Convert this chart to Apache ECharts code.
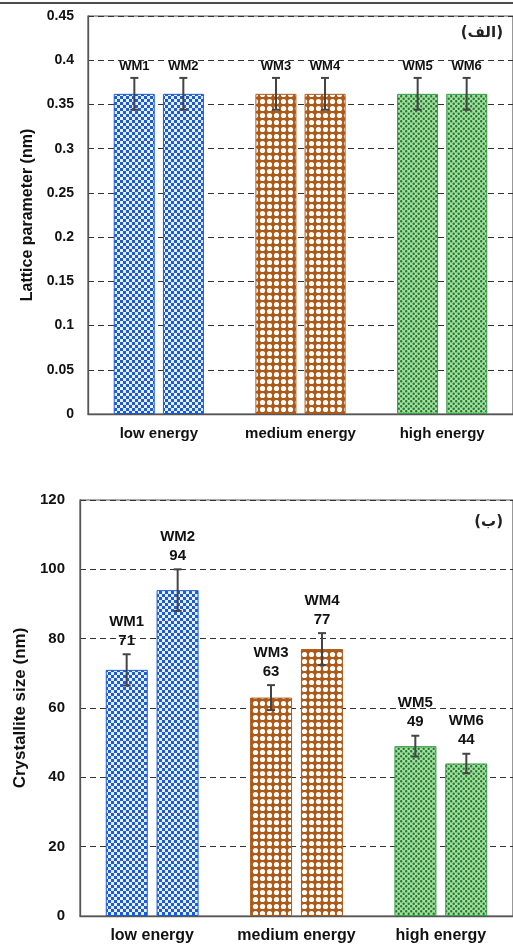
<!DOCTYPE html>
<html>
<head>
<meta charset="utf-8">
<script src="https://cdn.jsdelivr.net/npm/echarts@6/dist/echarts.min.js"></script>
<style>
    html, body { margin: 0; padding: 0; background: #fff; }
    #chart { width: 513px; height: 946px; }
</style>
</head>
<body>
<div id="chart"></div>
<script>
    // data
    const categories = ['low energy', 'medium energy', 'high energy'];
    const firstNames = ['WM1', 'WM3', 'WM5'];
    const secondNames = ['WM2', 'WM4', 'WM6'];

    const latticeFirst = [0.362, 0.362, 0.362];
    const latticeSecond = [0.362, 0.362, 0.362];
    const latticeErrFirst = [0.018, 0.018, 0.018];
    const latticeErrSecond = [0.018, 0.018, 0.018];

    const sizeFirst = [71, 63, 49];
    const sizeSecond = [94, 77, 44];
    const sizeErrFirst = [4.5, 3.6, 3];
    const sizeErrSecond = [6, 4.6, 2.8];

    const FONT = '"Liberation Sans", Arial, sans-serif';

    function makeCanvas(w, h, draw) {
        const c = document.createElement('canvas');
        c.width = w;
        c.height = h;
        draw(c.getContext('2d'));
        return c;
    }

    const blueTile = makeCanvas(6, 6, ctx => {
        ctx.fillStyle = '#e8f0fd';
        ctx.fillRect(0, 0, 6, 6);
        ctx.fillStyle = '#1a5cd8';
        ctx.fillRect(0, 0, 3, 3);
        ctx.fillRect(3, 3, 3, 3);
    });
    const brownTile = makeCanvas(7, 7, ctx => {
        ctx.fillStyle = '#ad5a18';
        ctx.fillRect(0, 0, 7, 7);
        ctx.fillStyle = '#ffffff';
        ctx.beginPath();
        ctx.arc(3.5, 3.5, 2.6, 0, Math.PI * 2);
        ctx.fill();
    });
    const greenTile = makeCanvas(5, 5, ctx => {
        ctx.fillStyle = '#a6dea4';
        ctx.fillRect(0, 0, 5, 5);
        ctx.fillStyle = '#1f7a2c';
        ctx.beginPath();
        ctx.arc(1.2, 1.2, 1.2, 0, Math.PI * 2);
        ctx.arc(3.7, 3.7, 1.2, 0, Math.PI * 2);
        ctx.fill();
    });

    const fills = [
        { image: blueTile, repeat: 'repeat' },
        { image: brownTile, repeat: 'repeat' },
        { image: greenTile, repeat: 'repeat' }
    ];
    const borders = ['#1a5cd8', '#ad5a18', '#3a9e47'];

    function barData(values) {
        return values.map((v, i) => ({
            value: v,
            itemStyle: { color: fills[i], borderColor: borders[i], borderWidth: 1 }
        }));
    }

    function errData(values, errs, side) {
        return values.map((v, i) => [i, v, errs[i], side]);
    }

    // error bar + label, drawn through the axis scale
    function errorRenderer(shift, labels, fontSize, lineHeight) {
        return function (params, api) {
            const cat = api.value(0);
            const v = api.value(1);
            const e = api.value(2);
            const side = api.value(3);
            const top = api.coord([cat, v + e]);
            const bot = api.coord([cat, v - e]);
            const x = top[0] + side * shift;
            const cap = 4;
            return {
                type: 'group',
                children: [
                    { type: 'line', shape: { x1: x, y1: top[1], x2: x, y2: bot[1] }, style: { stroke: '#444', lineWidth: 2 } },
                    { type: 'line', shape: { x1: x - cap, y1: top[1], x2: x + cap, y2: top[1] }, style: { stroke: '#444', lineWidth: 2 } },
                    { type: 'line', shape: { x1: x - cap, y1: bot[1], x2: x + cap, y2: bot[1] }, style: { stroke: '#444', lineWidth: 2 } },
                    {
                        type: 'text',
                        style: {
                            text: labels[params.dataIndex],
                            x: x,
                            y: top[1] - 4,
                            align: 'center',
                            verticalAlign: 'bottom',
                            fontSize: fontSize,
                            fontWeight: 'bold',
                            fontFamily: FONT,
                            lineHeight: lineHeight,
                            fill: '#111'
                        }
                    }
                ]
            };
        };
    }

    const splitDash = { show: true, lineStyle: { color: '#333', type: [6, 4], width: 1 } };

    const chart = echarts.init(document.getElementById('chart'));
    chart.setOption({
        animation: false,
        backgroundColor: '#fff',
        grid: [
            { left: 88, top: 16, width: 426, height: 398, show: true, borderColor: '#555', borderWidth: 1.2 },
            { left: 80, top: 500, width: 442, height: 416, show: true, borderColor: '#555', borderWidth: 1.2 }
        ],
        xAxis: [
            {
                type: 'category', gridIndex: 0, data: categories,
                axisLine: { lineStyle: { color: '#555', width: 1.3 } },
                axisTick: { show: false },
                axisLabel: { interval: 0, color: '#111', fontWeight: 'bold', fontSize: 15, fontFamily: FONT, margin: 12 }
            },
            {
                type: 'category', gridIndex: 1, data: categories,
                axisLine: { lineStyle: { color: '#555', width: 1.3 } },
                axisTick: { show: false },
                axisLabel: { interval: 0, color: '#111', fontWeight: 'bold', fontSize: 16, fontFamily: FONT, margin: 12 }
            }
        ],
        yAxis: [
            {
                type: 'value', gridIndex: 0, min: 0, max: 0.45, interval: 0.05,
                name: 'Lattice parameter (nm)', nameLocation: 'middle', nameGap: 50,
                nameTextStyle: { color: '#111', fontWeight: 'bold', fontSize: 16, fontFamily: FONT },
                axisLine: { show: true, lineStyle: { color: '#555', width: 1.3 } },
                axisTick: { show: false },
                axisLabel: { color: '#111', fontWeight: 'bold', fontSize: 14, fontFamily: FONT, margin: 14 },
                splitLine: splitDash
            },
            {
                type: 'value', gridIndex: 1, min: 0, max: 120, interval: 20,
                name: 'Crystallite size (nm)', nameLocation: 'middle', nameGap: 50,
                nameTextStyle: { color: '#111', fontWeight: 'bold', fontSize: 17, fontFamily: FONT },
                axisLine: { show: true, lineStyle: { color: '#555', width: 1.3 } },
                axisTick: { show: false },
                axisLabel: { color: '#111', fontWeight: 'bold', fontSize: 15, fontFamily: FONT, margin: 15 },
                splitLine: splitDash
            }
        ],
        graphic: [
            { type: 'line', shape: { x1: 0, y1: 3, x2: 513, y2: 3 }, style: { stroke: '#111', lineWidth: 1.5 } },
            { type: 'text', right: 10, top: 26, style: { text: '(الف)', fontSize: 15, fontWeight: 'bold', fontFamily: 'DejaVu Sans', fill: '#222' } },
            { type: 'text', right: 10, top: 515, style: { text: '(ب)', fontSize: 15, fontWeight: 'bold', fontFamily: 'DejaVu Sans', fill: '#222' } }
        ],
        series: [
            { type: 'bar', xAxisIndex: 0, yAxisIndex: 0, barWidth: 41, barGap: '20%', data: barData(latticeFirst) },
            { type: 'bar', xAxisIndex: 0, yAxisIndex: 0, barWidth: 41, barGap: '20%', data: barData(latticeSecond) },
            {
                type: 'custom', xAxisIndex: 0, yAxisIndex: 0, z: 5,
                renderItem: errorRenderer(24.5, firstNames, 13, 15),
                data: errData(latticeFirst, latticeErrFirst, -1)
            },
            {
                type: 'custom', xAxisIndex: 0, yAxisIndex: 0, z: 5,
                renderItem: errorRenderer(24.5, secondNames, 13, 15),
                data: errData(latticeSecond, latticeErrSecond, 1)
            },
            { type: 'bar', xAxisIndex: 1, yAxisIndex: 1, barWidth: 42, barGap: '21%', data: barData(sizeFirst) },
            { type: 'bar', xAxisIndex: 1, yAxisIndex: 1, barWidth: 42, barGap: '21%', data: barData(sizeSecond) },
            {
                type: 'custom', xAxisIndex: 1, yAxisIndex: 1, z: 5,
                renderItem: errorRenderer(25.5, firstNames.map((n, i) => n + '\n' + sizeFirst[i]), 15, 19),
                data: errData(sizeFirst, sizeErrFirst, -1)
            },
            {
                type: 'custom', xAxisIndex: 1, yAxisIndex: 1, z: 5,
                renderItem: errorRenderer(25.5, secondNames.map((n, i) => n + '\n' + sizeSecond[i]), 15, 19),
                data: errData(sizeSecond, sizeErrSecond, 1)
            }
        ]
    });
</script>
</body>
</html>
